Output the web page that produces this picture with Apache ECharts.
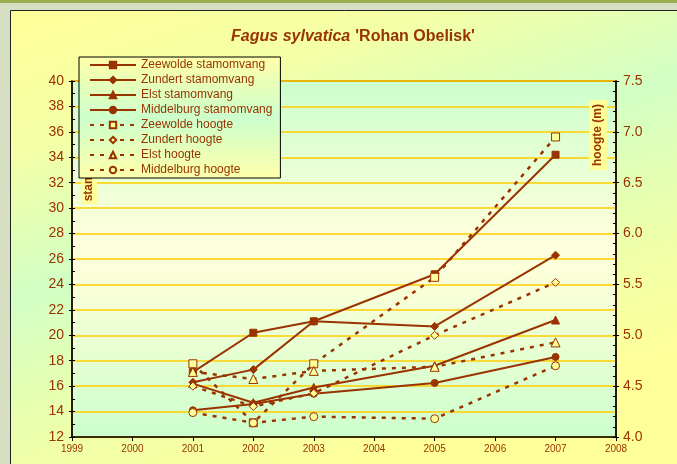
<!DOCTYPE html>
<html>
<head>
<meta charset="utf-8">
<script src="https://cdn.jsdelivr.net/npm/echarts@6/dist/echarts.min.js"></script>
<style>
  html, body { margin: 0; padding: 0; background: #d6dfc2; }
  #chart { width: 677px; height: 464px; }
</style>
</head>
<body>
<div id="chart"></div>
<script>
// meetjaren
const years = [2001, 2002, 2003, 2005, 2007];

// stamomvang (cm), linker as
const zeewoldeStam   = [17.1, 20.2, 21.1, 24.8, 34.2];
const zundertStam    = [16.3, 17.3, 21.1, 20.7, 26.3];
const elstStam       = [16.2, 14.7, 15.9, 17.6, 21.2];
const middelburgStam = [14.1, 14.6, 15.4, 16.25, 18.3];

// hoogte (m), rechter as
const zeewoldeHoogte   = [4.72, 4.14, 4.72, 5.57, 6.95];
const zundertHoogte    = [4.5, 4.3, 4.43, 5.0, 5.52];
const elstHoogte       = [4.64, 4.57, 4.65, 4.69, 4.93];
const middelburgHoogte = [4.24, 4.14, 4.2, 4.18, 4.7];

const brown = '#993300';
const font = 'Arial, "Liberation Sans", sans-serif';

function pairs(vals) {
  return years.map((y, i) => [y, vals[i]]);
}

function solid(name, vals, symbol, size) {
  return {
    name: name, type: 'line', yAxisIndex: 0, z: 3,
    data: pairs(vals),
    symbol: symbol, symbolSize: size,
    lineStyle: { color: brown, width: 2 },
    itemStyle: { color: brown, borderColor: brown, borderWidth: 1 }
  };
}

function dashed(name, vals, symbol, size) {
  return {
    name: name, type: 'line', yAxisIndex: 1, z: 3,
    data: pairs(vals),
    symbol: symbol, symbolSize: size,
    lineStyle: { color: brown, width: 2.5, type: [4, 6] },
    itemStyle: { color: '#ffff99', borderColor: brown, borderWidth: 1 }
  };
}

const chart = echarts.init(document.getElementById('chart'));

chart.setOption({
  animation: false,
  backgroundColor: '#d6dfc2',
  textStyle: { fontFamily: font },
  title: {
    text: '{i|Fagus sylvatica} {n|\'Rohan Obelisk\'}',
    left: 348, top: 23, textAlign: 'center',
    textStyle: {
      rich: {
        i: { fontSize: 16, fontWeight: 'bold', fontStyle: 'italic', color: brown, fontFamily: font },
        n: { fontSize: 16, fontWeight: 'bold', color: brown, fontFamily: font }
      }
    }
  },
  legend: {
    orient: 'vertical',
    left: 79, top: 57,
    z: 10,
    padding: [2, 8, 2, 10],
    itemWidth: 46, itemHeight: 8, itemGap: 3,
    borderColor: '#000', borderWidth: 1,
    backgroundColor: new echarts.graphic.LinearGradient(0, 0, 0, 1, [
      { offset: 0, color: '#ffffaa' },
      { offset: 0.5, color: '#ccffcc' },
      { offset: 1, color: '#ffffaa' }
    ]),
    textStyle: { color: brown, fontSize: 12, fontFamily: font },
    data: [
      'Zeewolde stamomvang', 'Zundert stamomvang', 'Elst stamomvang', 'Middelburg stamomvang',
      'Zeewolde hoogte', 'Zundert hoogte', 'Elst hoogte', 'Middelburg hoogte'
    ]
  },
  grid: {
    left: 72, right: 61, top: 81, bottom: 27,
    show: true,
    borderColor: brown, borderWidth: 1.5,
    backgroundColor: new echarts.graphic.LinearGradient(0, 0, 0, 1, [
      { offset: 0, color: '#ccffcc' },
      { offset: 0.45, color: '#ffffdd' },
      { offset: 0.6, color: '#f8ffd8' },
      { offset: 1, color: '#ccffcc' }
    ])
  },
  xAxis: {
    type: 'value', min: 1999, max: 2008, interval: 1,
    axisLine: { show: true, lineStyle: { color: '#000', width: 1.5 } },
    axisTick: { show: true, length: 4, lineStyle: { color: '#000' } },
    splitLine: { show: false },
    axisLabel: { color: brown, fontSize: 10, margin: 7, formatter: v => String(v) }
  },
  yAxis: [
    {
      type: 'value', position: 'left', min: 12, max: 40, interval: 2,
      axisLine: { show: true, lineStyle: { color: '#000', width: 1.5 } },
      axisTick: { show: true, inside: true, length: 3, lineStyle: { color: '#000' } },
      minorTick: { show: true, splitNumber: 2, length: 3, lineStyle: { color: '#000' } },
      splitLine: { show: true, lineStyle: { color: '#ffcc00', width: 1.5 } },
      axisLabel: { color: brown, fontSize: 14, margin: 8 }
    },
    {
      type: 'value', position: 'right', min: 4, max: 7.5, interval: 0.5,
      axisLine: { show: true, lineStyle: { color: '#000', width: 1.5 } },
      axisTick: { show: true, inside: true, length: 3, lineStyle: { color: '#000' } },
      minorTick: { show: true, splitNumber: 5, length: 3, lineStyle: { color: '#000' } },
      splitLine: { show: false },
      axisLabel: { color: brown, fontSize: 14, margin: 7, formatter: v => v.toFixed(1) }
    },
    {
      type: 'value', position: 'left', min: 12, max: 40, interval: 2,
      axisLine: { show: false },
      axisTick: { show: true, length: 3, lineStyle: { color: '#000' } },
      splitLine: { show: false },
      axisLabel: { show: false }
    },
    {
      type: 'value', position: 'right', min: 4, max: 7.5, interval: 0.5,
      axisLine: { show: false },
      axisTick: { show: true, length: 3, lineStyle: { color: '#000' } },
      splitLine: { show: false },
      axisLabel: { show: false }
    }
  ],
  graphic: [
    { type: 'rect', z: -10, silent: true,
      shape: { x: 0, y: 0, width: 677, height: 3 },
      style: { fill: '#9caf50' } },
    { type: 'rect', z: -10, silent: true,
      shape: { x: 10.5, y: 10.5, width: 700, height: 520 },
      style: {
        stroke: '#222', lineWidth: 1,
        fill: new echarts.graphic.LinearGradient(0, 0, 0.25, 1, [
          { offset: 0, color: '#ffff99' },
          { offset: 0.25, color: '#f4ffa6' },
          { offset: 0.5, color: '#d2ffc4' },
          { offset: 0.78, color: '#f0ffa8' },
          { offset: 1, color: '#ffff99' }
        ])
      } },
    { type: 'text', z: 5, silent: true,
      x: 89, y: 150, rotation: Math.PI / 2,
      style: {
        text: 'stamomvang (cm)', fill: brown, font: 'bold 12px ' + font,
        align: 'center', verticalAlign: 'middle',
        backgroundColor: '#ffff99', padding: [2, 3]
      } },
    { type: 'text', z: 20, silent: true,
      x: 598, y: 135, rotation: Math.PI / 2,
      style: {
        text: 'hoogte (m)', fill: brown, font: 'bold 12px ' + font,
        align: 'center', verticalAlign: 'middle',
        backgroundColor: '#ffff99', padding: [3, 4]
      } }
  ],
  series: [
    solid('Zeewolde stamomvang', zeewoldeStam, 'rect', 7),
    solid('Zundert stamomvang', zundertStam, 'diamond', 8),
    solid('Elst stamomvang', elstStam, 'triangle', 8),
    solid('Middelburg stamomvang', middelburgStam, 'circle', 7),
    dashed('Zeewolde hoogte', zeewoldeHoogte, 'rect', 8),
    dashed('Zundert hoogte', zundertHoogte, 'diamond', 8),
    dashed('Elst hoogte', elstHoogte, 'triangle', 9),
    dashed('Middelburg hoogte', middelburgHoogte, 'circle', 8)
  ]
});
</script>
</body>
</html>
